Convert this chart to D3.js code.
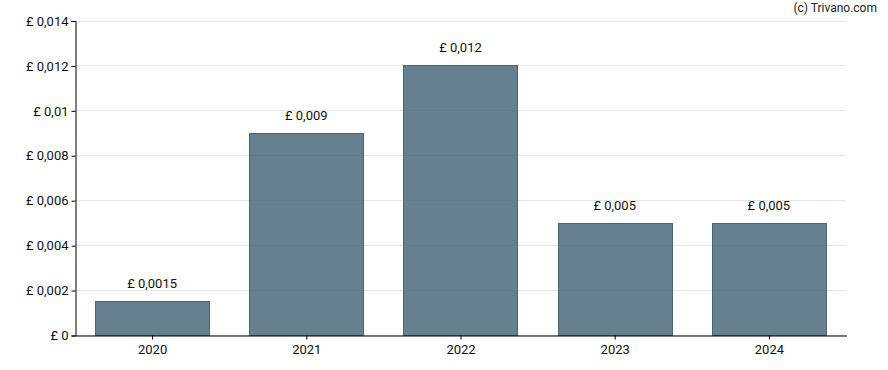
<!DOCTYPE html>
<html>
<head>
<meta charset="utf-8">
<script src="https://cdn.jsdelivr.net/npm/d3@7"></script>
<style>
  body { margin: 0; background: #fff; }
  svg text { font-family: Roboto, "Noto Sans", sans-serif; }
</style>
</head>
<body>
<div id="chart"></div>
<script>
const years = ['2020', '2021', '2022', '2023', '2024'];
const dividends = [0.0015, 0.009, 0.012, 0.005, 0.005];
const valueLabels = ['£ 0,0015', '£ 0,009', '£ 0,012', '£ 0,005', '£ 0,005'];
const yTicks = [0, 0.002, 0.004, 0.006, 0.008, 0.01, 0.012, 0.014];
const yTickLabels = ['£ 0', '£ 0,002', '£ 0,004', '£ 0,006', '£ 0,008', '£ 0,01', '£ 0,012', '£ 0,014'];

const width = 888;
const height = 370;
const marginLeft = 75;
const marginRight = 42;
const marginTop = 20.5;
const marginBottom = 35;

const svg = d3.select('#chart')
    .append('svg')
    .attr('width', width)
    .attr('height', height);

const xScale = d3.scaleBand()
    .domain(years)
    .range([marginLeft, width - marginRight])
    .paddingInner(0.26)
    .paddingOuter(0.13);

const yScale = d3.scaleLinear()
    .domain([0, 0.014])
    .range([height - marginBottom, marginTop]);

// grid
svg.append('g')
    .selectAll('line')
    .data(yTicks)
    .enter()
    .append('line')
    .attr('x1', marginLeft)
    .attr('x2', width - marginRight)
    .attr('y1', d => Math.round(yScale(d)) + 0.5)
    .attr('y2', d => Math.round(yScale(d)) + 0.5)
    .attr('stroke', '#e6e6e6')
    .attr('stroke-width', 1);

// bars
svg.append('g')
    .selectAll('rect')
    .data(dividends)
    .enter()
    .append('rect')
    .attr('x', (d, i) => Math.round(xScale(years[i])) + 0.5)
    .attr('y', d => Math.round(yScale(d)) + 0.5)
    .attr('width', Math.round(xScale.bandwidth()))
    .attr('height', d => Math.round(yScale(0)) - Math.round(yScale(d)))
    .attr('fill', 'rgba(64,96,116,0.8)')
    .attr('stroke', '#4a6579')
    .attr('stroke-width', 1);

// value labels
svg.append('g')
    .selectAll('text')
    .data(dividends)
    .enter()
    .append('text')
    .attr('x', (d, i) => xScale(years[i]) + xScale.bandwidth() / 2)
    .attr('y', d => yScale(d) - 13)
    .attr('text-anchor', 'middle')
    .attr('font-size', 13)
    .attr('fill', '#111')
    .text((d, i) => valueLabels[i]);

// y axis
const yAxis = d3.axisLeft(yScale)
    .tickValues(yTicks)
    .tickSize(4)
    .tickFormat((d, i) => yTickLabels[i]);

const gy = svg.append('g')
    .attr('transform', `translate(${marginLeft + 0.5},0.5)`)
    .call(yAxis);
gy.select('.domain').attr('stroke', '#000');
gy.selectAll('.tick line').attr('stroke', '#000');
gy.selectAll('.tick text')
    .attr('font-size', 13)
    .attr('font-family', 'Roboto, sans-serif')
    .attr('fill', '#111')
    .attr('x', -7);

// x axis
const xAxis = d3.axisBottom(xScale)
    .tickSize(4)
    .tickSizeOuter(0);

const gx = svg.append('g')
    .attr('transform', `translate(0.5,${Math.round(yScale(0)) + 0.5})`)
    .call(xAxis);
gx.select('.domain').attr('stroke', '#000');
gx.selectAll('.tick line').attr('stroke', '#000');
gx.selectAll('.tick text')
    .attr('font-size', 13)
    .attr('font-family', 'Roboto, sans-serif')
    .attr('fill', '#111')
    .attr('y', 9);

// credit
svg.append('text')
    .attr('x', 877)
    .attr('y', 12)
    .attr('text-anchor', 'end')
    .attr('font-size', 12)
    .attr('font-family', '"Liberation Sans", Arial, sans-serif')
    .attr('fill', '#222')
    .text('(c) Trivano.com');
</script>
</body>
</html>
